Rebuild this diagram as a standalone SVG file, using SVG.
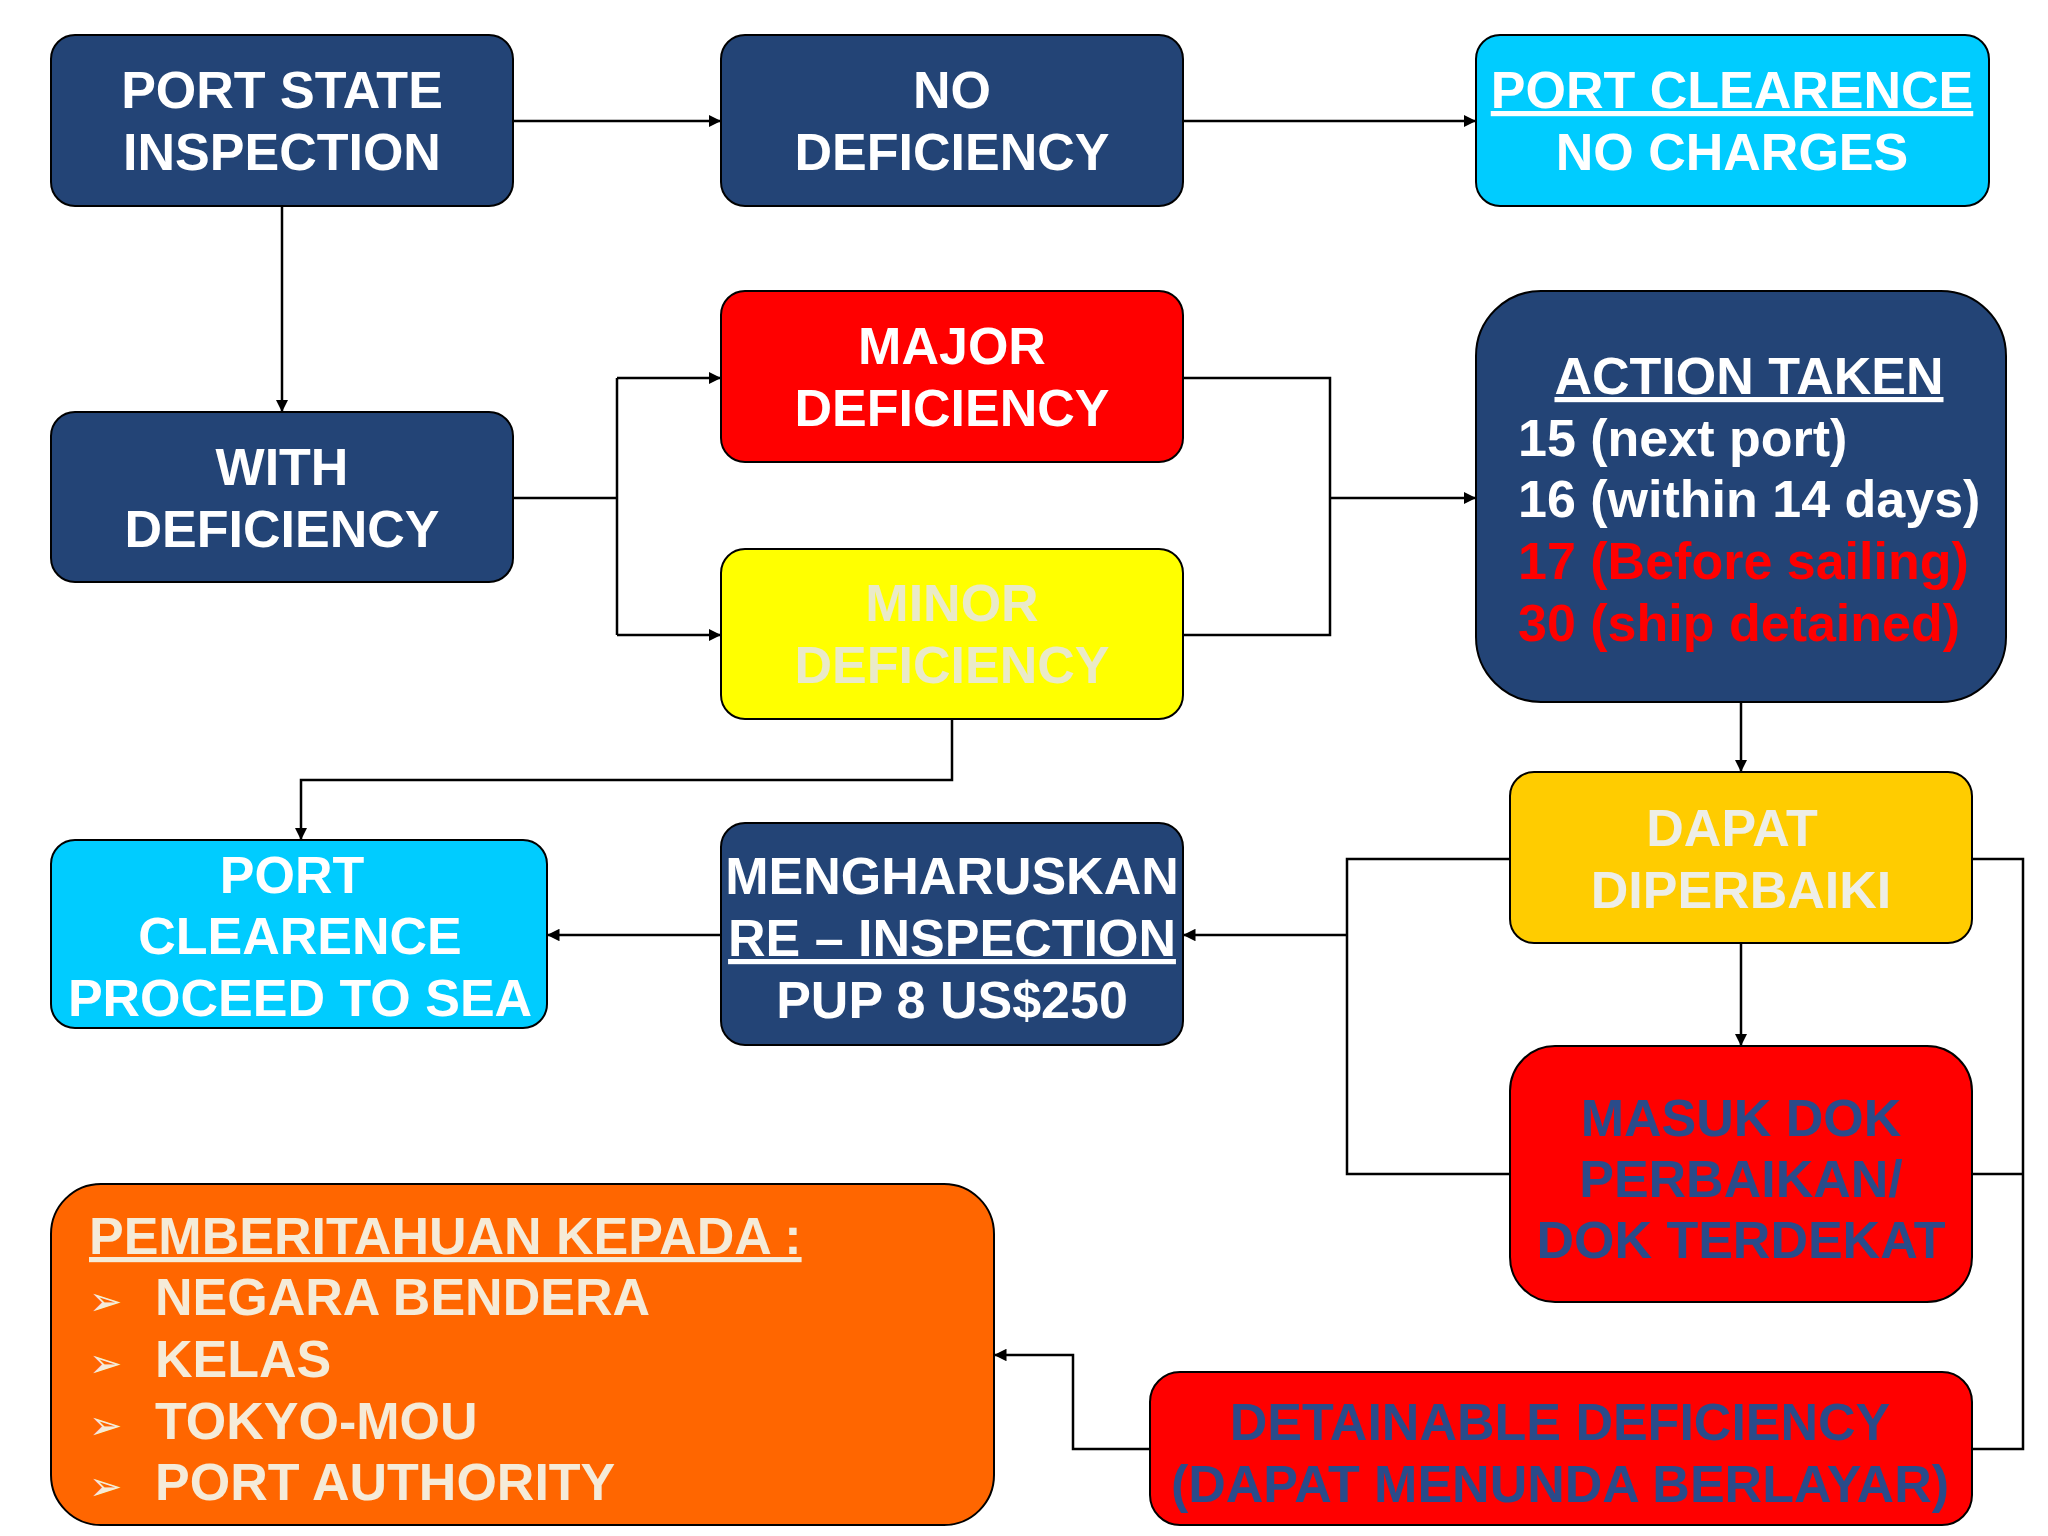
<svg xmlns="http://www.w3.org/2000/svg" width="2048" height="1536" viewBox="0 0 2048 1536">
<defs>
<marker id="a" viewBox="0 0 10 10" refX="10" refY="5" markerWidth="5" markerHeight="5" orient="auto"><path d="M0,0L10,5L0,10z" fill="#000"/></marker>
<style>
.b{stroke:#000;stroke-width:2}
.t{font-family:"Liberation Sans",Arial,sans-serif;font-weight:bold;font-size:52px;text-anchor:middle}
.w{fill:#fff}
.c{stroke:#000;stroke-width:2.5;fill:none}
</style>
</defs>
<rect width="2048" height="1536" fill="#fff"/>
<g id="connectors">
<path class="c" d="M513,121H721" marker-end="url(#a)"/>
<path class="c" d="M1183,121H1476" marker-end="url(#a)"/>
<path class="c" d="M282,206V412" marker-end="url(#a)"/>
<path class="c" d="M513,498H617"/>
<path class="c" d="M617,378V635"/>
<path class="c" d="M617,378H721" marker-end="url(#a)"/>
<path class="c" d="M617,635H721" marker-end="url(#a)"/>
<path class="c" d="M1183,378H1330V635H1183"/>
<path class="c" d="M1330,498H1476" marker-end="url(#a)"/>
<path class="c" d="M1741,702V772" marker-end="url(#a)"/>
<path class="c" d="M952,719V780H301V840" marker-end="url(#a)"/>
<path class="c" d="M721,935H547" marker-end="url(#a)"/>
<path class="c" d="M1510,859H1347V1174H1510"/>
<path class="c" d="M1347,935H1183" marker-end="url(#a)"/>
<path class="c" d="M1741,943V1046" marker-end="url(#a)"/>
<path class="c" d="M1972,859H2023V1449H1972"/>
<path class="c" d="M1972,1174H2023"/>
<path class="c" d="M1150,1449H1073V1355H994" marker-end="url(#a)"/>
</g>
<g id="psi"><rect class="b" x="51" y="35" width="462" height="171" rx="24" fill="#234476"/>
<text class="t w" x="282" y="108">PORT STATE</text><text class="t w" x="282" y="170">INSPECTION</text></g>
<g id="nodef"><rect class="b" x="721" y="35" width="462" height="171" rx="24" fill="#234476"/>
<text class="t w" x="952" y="108">NO</text><text class="t w" x="952" y="170">DEFICIENCY</text></g>
<g id="pcnc"><rect class="b" x="1476" y="35" width="513" height="171" rx="24" fill="#00CCFF"/>
<text class="t w" x="1732" y="108" text-decoration="underline">PORT CLEARENCE</text><text class="t w" x="1732" y="170">NO CHARGES</text></g>
<g id="withdef"><rect class="b" x="51" y="412" width="462" height="170" rx="24" fill="#234476"/>
<text class="t w" x="282" y="485">WITH</text><text class="t w" x="282" y="547">DEFICIENCY</text></g>
<g id="major"><rect class="b" x="721" y="291" width="462" height="171" rx="24" fill="#FF0000"/>
<text class="t w" x="952" y="364">MAJOR</text><text class="t w" x="952" y="426">DEFICIENCY</text></g>
<g id="minor"><rect class="b" x="721" y="549" width="462" height="170" rx="24" fill="#FFFF00"/>
<text class="t" fill="#EAEAC8" x="952" y="621">MINOR</text><text class="t" fill="#EAEAC8" x="952" y="683">DEFICIENCY</text></g>
<g id="action"><rect class="b" x="1476" y="291" width="530" height="411" rx="65" fill="#234476"/>
<text class="t w" x="1749" y="394" text-decoration="underline">ACTION TAKEN</text>
<g style="text-anchor:start"><text class="t w" style="text-anchor:start" x="1518" y="456">15 (next port)</text>
<text class="t w" style="text-anchor:start" x="1518" y="517">16 (within 14 days)</text>
<text class="t" fill="#FF0000" style="text-anchor:start" x="1518" y="579">17 (Before sailing)</text>
<text class="t" fill="#FF0000" style="text-anchor:start" x="1518" y="641">30 (ship detained)</text></g></g>
<g id="dapat"><rect class="b" x="1510" y="772" width="462" height="171" rx="24" fill="#FFCC00"/>
<text class="t" fill="#EEEEE6" x="1732" y="846">DAPAT</text><text class="t" fill="#EEEEE6" x="1741" y="908">DIPERBAIKI</text></g>
<g id="pcsea"><rect class="b" x="51" y="840" width="496" height="188" rx="24" fill="#00CCFF"/>
<text class="t w" x="292" y="893">PORT</text><text class="t w" x="300" y="954">CLEARENCE</text><text class="t w" x="300" y="1016">PROCEED TO SEA</text></g>
<g id="reinsp"><rect class="b" x="721" y="823" width="462" height="222" rx="24" fill="#234476"/>
<text class="t w" x="952" y="894">MENGHARUSKAN</text><text class="t w" x="952" y="956" text-decoration="underline">RE – INSPECTION</text><text class="t w" x="952" y="1018">PUP 8 US$250</text></g>
<g id="masuk"><rect class="b" x="1510" y="1046" width="462" height="256" rx="45" fill="#FF0000"/>
<text class="t" fill="#2A4B8A" x="1741" y="1136">MASUK DOK</text><text class="t" fill="#2A4B8A" x="1741" y="1197">PERBAIKAN/</text><text class="t" fill="#2A4B8A" x="1741" y="1258">DOK TERDEKAT</text></g>
<g id="notify"><rect class="b" x="51" y="1184" width="943" height="341" rx="50" fill="#FF6600"/>
<g fill="#F5EBD8" style="font-family:'Liberation Sans',Arial,sans-serif;font-weight:bold;font-size:52px">
<text x="89" y="1254" text-decoration="underline">PEMBERITAHUAN KEPADA :</text>
<text x="89" y="1315" style="font-family:'DejaVu Sans',sans-serif;font-size:40px">➢</text><text x="155" y="1315">NEGARA BENDERA</text>
<text x="89" y="1377" style="font-family:'DejaVu Sans',sans-serif;font-size:40px">➢</text><text x="155" y="1377">KELAS</text>
<text x="89" y="1439" style="font-family:'DejaVu Sans',sans-serif;font-size:40px">➢</text><text x="155" y="1439">TOKYO-MOU</text>
<text x="89" y="1500" style="font-family:'DejaVu Sans',sans-serif;font-size:40px">➢</text><text x="155" y="1500">PORT AUTHORITY</text></g></g>
<g id="detain"><rect class="b" x="1150" y="1372" width="822" height="153" rx="30" fill="#FF0000"/>
<text class="t" fill="#2A4B8A" x="1560" y="1440">DETAINABLE DEFICIENCY</text><text class="t" fill="#2A4B8A" x="1560" y="1502">(DAPAT MENUNDA BERLAYAR)</text></g>
</svg>
